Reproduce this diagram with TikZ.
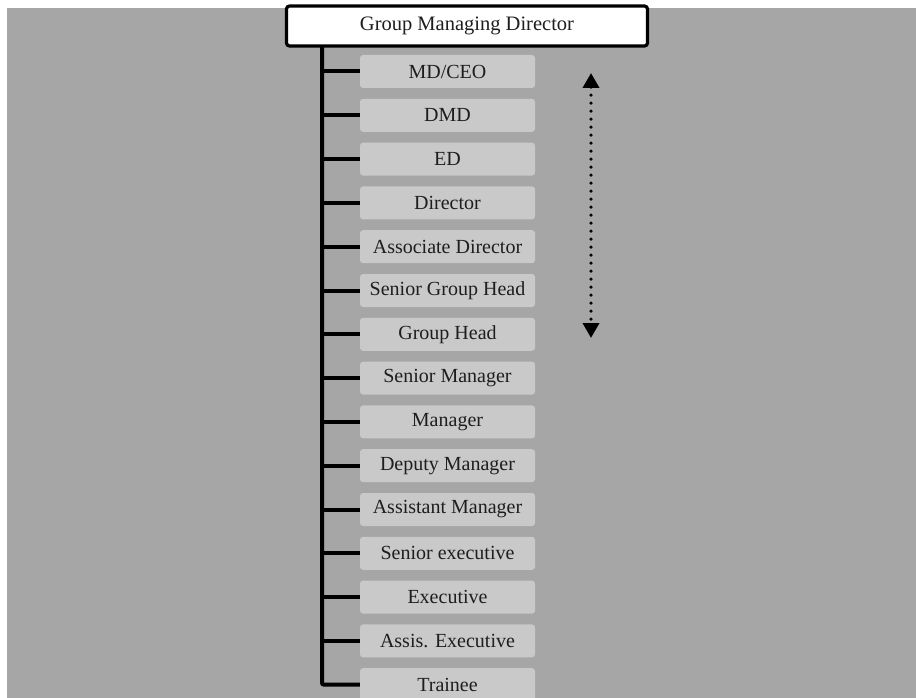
\documentclass[tikz,border=0pt]{standalone}
\usepackage{fontspec}
\setmainfont{Liberation Serif}
\usetikzlibrary{arrows.meta}

\definecolor{pagegray}{HTML}{A6A6A6}
\definecolor{rankgray}{HTML}{C9C9C9}
\definecolor{inkgray}{HTML}{1E1E1E}

\tikzset{
  headbox/.style = {draw=black, line width=3.2pt, fill=white, rounded corners=3pt,
                    minimum width=361pt, minimum height=40pt, inner sep=0pt,
                    text=inkgray, font=\fontsize{20.5}{24}\selectfont},
  rankbox/.style = {fill=rankgray, rounded corners=3pt, minimum width=175pt,
                    minimum height=33pt, inner sep=0pt,
                    text=inkgray, font=\fontsize{20}{24}\selectfont},
  spineline/.style = {line width=4pt, black},
  rankarrow/.style = {line width=3.6pt, line cap=round, dash pattern=on 0pt off 8pt,
                      {Triangle[width=16pt,length=15pt]}-{Triangle[width=16pt,length=15pt]}}
}

\begin{document}
\begin{tikzpicture}[x=1pt, y=1pt]
    % Page and gray panel
    \useasboundingbox (0,0) rectangle (916,-698);
    \fill[pagegray] (7,-8) rectangle (916,-698);

    % Top of the ladder
    \node[headbox] (gmd) at (467,-26) {Group Managing Director};

    % Ranks, one under the other
    \foreach \rank [count=\i] in {MD/CEO, DMD, ED, Director, Associate Director,
        Senior Group Head, Group Head, Senior Manager, Manager, Deputy Manager,
        Assistant Manager, Senior executive, Executive, Assis. Executive, Trainee}
      \node[rankbox] (rank\i) at (447.5,{-71.5-43.8*(\i-1)}) {\rank};

    % Spine and branches
    \coordinate (spine) at (322,-47);
    \draw[spineline, rounded corners=2pt] (spine) |- (rank15.west);
    \foreach \i in {1,...,14}
      \draw[spineline] (spine |- rank\i.west) -- (rank\i.west);

    % Dotted double arrow
    \coordinate (up) at (591,-73);
    \coordinate (down) at (591,-338);
    \draw[rankarrow] (up) -- (down);

\end{tikzpicture}
\end{document}
